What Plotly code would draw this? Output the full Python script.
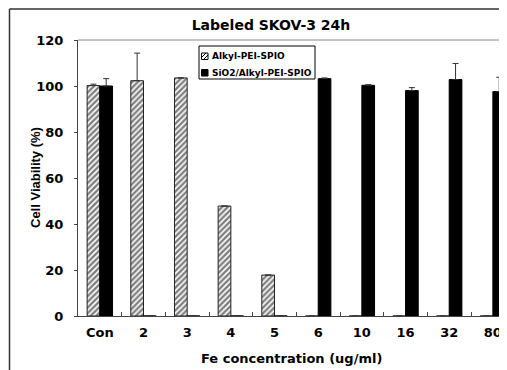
import plotly.graph_objects as go

categories = ["Con", "2", "3", "4", "5", "6", "10", "16", "32", "80"]
alkyl_values = [100.2, 102.3, 103.5, 47.8, 17.8, 0, 0, 0, 0, 0]
alkyl_err = [0.6, 12.0, 0, 0, 0, 0, 0, 0, 0, 0]
sio2_values = [100.0, 0, 0, 0, 0, 103.2, 100.3, 98.0, 102.8, 97.6]
sio2_err = [3.2, 0, 0, 0, 0, 0.3, 0.3, 1.3, 7.0, 6.2]
series_names = ["Alkyl-PEI-SPIO", "SiO2/Alkyl-PEI-SPIO"]
yticks = [0, 20, 40, 60, 80, 100, 120]

# page body has an 8px margin, so the figure is sized/offset accordingly
OFF = 8
W, H = 507 - OFF, 370 - OFF
ML, MT = 78 - OFF, 40 - OFF
PB = 316 - OFF              # plot bottom in figure px
MB = H - PB
plot_w = W - ML
plot_h = PB - MT
cat_px = 43.67


def px(x):  # screen px -> paper x
    return (x - OFF - ML) / plot_w


def py(y):  # screen px -> paper y
    return (PB - (y - OFF)) / plot_h


fig = go.Figure()
fig.add_trace(go.Bar(
    x=categories, y=alkyl_values, name=series_names[0],
    marker=dict(color="white", line=dict(color="#222", width=1),
                pattern=dict(shape="/", size=4, solidity=0.6, fgcolor="black", bgcolor="white")),
    error_y=dict(type="data", array=alkyl_err, arrayminus=[0]*10, symmetric=False,
                 color="#333", thickness=1, width=3),
))
fig.add_trace(go.Bar(
    x=categories, y=sio2_values, name=series_names[1],
    marker=dict(color="black", line=dict(color="black", width=1)),
    error_y=dict(type="data", array=sio2_err, arrayminus=[0]*10, symmetric=False,
                 color="#333", thickness=1, width=3),
))

bold = "DejaVu Sans"
fig.update_layout(
    width=W, height=H,
    margin=dict(l=ML, r=0, t=MT, b=MB, autoexpand=False),
    paper_bgcolor="white", plot_bgcolor="white",
    barmode="group", bargap=0.418, bargroupgap=0,
    font=dict(family=bold, color="black"),
    title=dict(text="<b>Labeled SKOV-3 24h</b>", font=dict(family=bold, size=14, color="black"),
               x=(271 - OFF) / W, xanchor="center", y=1 - (25 - OFF) / H, yanchor="middle",
               xref="container", yref="container"),
    showlegend=False,
)
fig.update_xaxes(
    type="category", range=[-0.5, -0.5 + plot_w / cat_px], automargin=False,
    showline=True, linecolor="#444", linewidth=1, mirror=False,
    ticks="inside", ticklen=4, tickcolor="#444", tickson="boundaries",
    tickfont=dict(family=bold, size=13, color="black"),
    ticklabelstandoff=4,
    tickvals=categories, ticktext=["<b>%s</b>" % c for c in categories],
    showgrid=False, zeroline=False,
)
fig.update_yaxes(
    range=[0, 120], tickvals=yticks, ticktext=["<b>%d</b>" % v for v in yticks], automargin=False,
    showline=True, linecolor="#444", linewidth=1,
    ticks="outside", ticklen=3, tickcolor="#444",
    tickfont=dict(family=bold, size=13, color="black"),
    ticklabelstandoff=8,
    showgrid=False, zeroline=False,
)
# axis titles as annotations
fig.add_annotation(text="<b>Fe concentration (ug/ml)</b>", xref="paper", yref="paper",
                   x=px(291), y=py(358), xanchor="center", yanchor="middle", showarrow=False,
                   font=dict(family=bold, size=13, color="black"))
fig.add_annotation(text="<b>Cell Viability (%)</b>", xref="paper", yref="paper",
                   x=px(35), y=py(178), xanchor="center", yanchor="middle", showarrow=False,
                   textangle=-90, font=dict(family="Liberation Sans", size=13, color="black"))

# legend box drawn to match the compact original legend
fig.add_shape(type="rect", xref="paper", yref="paper", x0=px(199), x1=px(315), y0=py(46), y1=py(79),
              line=dict(color="black", width=1), fillcolor="white", layer="above")
# hatched key
fig.add_shape(type="rect", xref="paper", yref="paper", x0=px(201.5), x1=px(208), y0=py(53), y1=py(59.5),
              line=dict(color="black", width=1), fillcolor="white", layer="above")
for a, b in [((201.5, 57.5), (206, 53)), ((203.5, 59.5), (208, 55))]:
    fig.add_shape(type="line", xref="paper", yref="paper", x0=px(a[0]), y0=py(a[1]), x1=px(b[0]), y1=py(b[1]),
                  line=dict(color="black", width=1), layer="above")
# solid key
fig.add_shape(type="rect", xref="paper", yref="paper", x0=px(201.5), x1=px(208), y0=py(69.5), y1=py(76),
              line=dict(color="black", width=1), fillcolor="black", layer="above")
for name, yy in zip(series_names, [56, 72.5]):
    fig.add_annotation(text="<b>%s</b>" % name, xref="paper", yref="paper", x=px(210), y=py(yy),
                       xanchor="left", yanchor="middle", showarrow=False,
                       font=dict(family=bold, size=9, color="black"))

# top border of plot area
fig.add_shape(type="line", xref="paper", yref="paper", x0=0, x1=1.1, y0=1, y1=1,
              line=dict(color="#888", width=1))
# outer chart frame (top and left)
fig.add_shape(type="line", xref="paper", yref="paper", x0=px(9.5), x1=1.2, y0=py(9), y1=py(9),
              line=dict(color="#333", width=1.5))
fig.add_shape(type="line", xref="paper", yref="paper", x0=px(9.5), x1=px(9.5), y0=py(9), y1=-0.3,
              line=dict(color="#333", width=1.5))

fig.write_html("out.html")
